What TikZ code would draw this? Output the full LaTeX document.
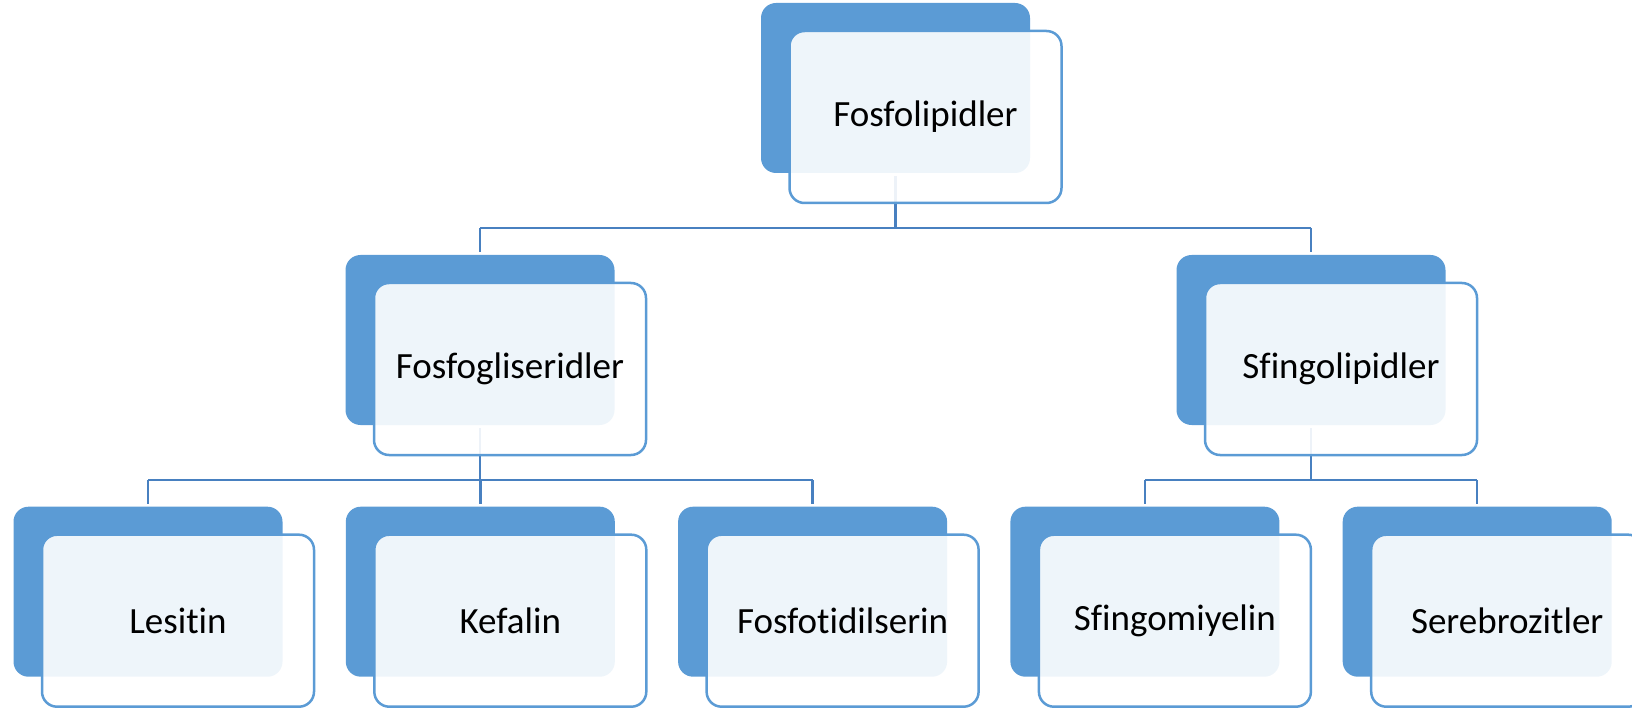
\documentclass[tikz,border=0pt]{standalone}
\usepackage{fontspec}
\setmainfont[Ligatures=CommonOff]{Carlito}
\usetikzlibrary{calc}
\definecolor{accblue}{RGB}{91,155,213}
\definecolor{connblue}{RGB}{72,128,192}
\tikzset{
  backbox/.style={rectangle, rounded corners=15pt, minimum width=269pt, minimum height=170pt, inner sep=0pt, outer sep=0pt, fill=accblue, draw=none},
  frontbox/.style={rectangle, rounded corners=15pt, minimum width=272pt, minimum height=172pt, inner sep=0pt, outer sep=0pt, fill=white, fill opacity=0.9, text opacity=1, draw=accblue, draw opacity=1, line width=2.5pt, font=\fontsize{37}{44}\selectfont, text=black},
  conn/.style={draw=connblue, line width=2.5pt}
}
\begin{document}
\begin{tikzpicture}[x=1pt,y=-1pt]
\useasboundingbox (0,0) rectangle (1632,708);
% back boxes
\node[backbox] (top-b) at (895.5,88) {};
\node[backbox] (fg-b) at (480,340) {};
\node[backbox] (sf-b) at (1311,340) {};
\node[backbox] (les-b) at (148,591.7) {};
\node[backbox] (kef-b) at (480.3,591.7) {};
\node[backbox] (fos-b) at (812.6,591.7) {};
\node[backbox] (sfm-b) at (1144.9,591.7) {};
\node[backbox] (ser-b) at (1477.2,591.7) {};
% connectors
\draw[conn] (top-b.south) ++(0,3) -- ++(0,52) coordinate (h0);
\draw[conn] (h0 -| fg-b.north) -- (h0 -| sf-b.north);
\draw[conn] (h0 -| fg-b.north) -- ([yshift=3pt]fg-b.north);
\draw[conn] (h0 -| sf-b.north) -- ([yshift=3pt]sf-b.north);
\draw[conn] (fg-b.south) ++(0,3) -- ++(0,52) coordinate (h1);
\draw[conn] (h1 -| les-b.north) -- (h1 -| fos-b.north);
\foreach \n in {les,kef,fos} {\draw[conn] (h1 -| \n-b.north) -- ([yshift=3pt]\n-b.north);}
\draw[conn] (sf-b.south) ++(0,3) -- ++(0,52) coordinate (h2);
\draw[conn] (h2 -| sfm-b.north) -- (h2 -| ser-b.north);
\foreach \n in {sfm,ser} {\draw[conn] (h2 -| \n-b.north) -- ([yshift=3pt]\n-b.north);}
% front boxes
\node[frontbox] (top) at ($(top-b.center)+(30,29)$) {Fosfolipidler};
\node[frontbox] (fg) at ($(fg-b.center)+(30,29)$) {Fosfogliseridler};
\node[frontbox] (sf) at ($(sf-b.center)+(30,29)$) {Sfingolipidler};
\node[frontbox] (les) at ($(les-b.center)+(30,29)$) {Lesitin};
\node[frontbox] (kef) at ($(kef-b.center)+(30,29)$) {Kefalin};
\node[frontbox] (fos) at ($(fos-b.center)+(30,29)$) {Fosfotidilserin};
\node[frontbox] (sfm) at ($(sfm-b.center)+(30,29)$) {Sfingomiyelin};
\node[frontbox] (ser) at ($(ser-b.center)+(30,29)$) {Serebrozitler};
\end{tikzpicture}
\end{document}
